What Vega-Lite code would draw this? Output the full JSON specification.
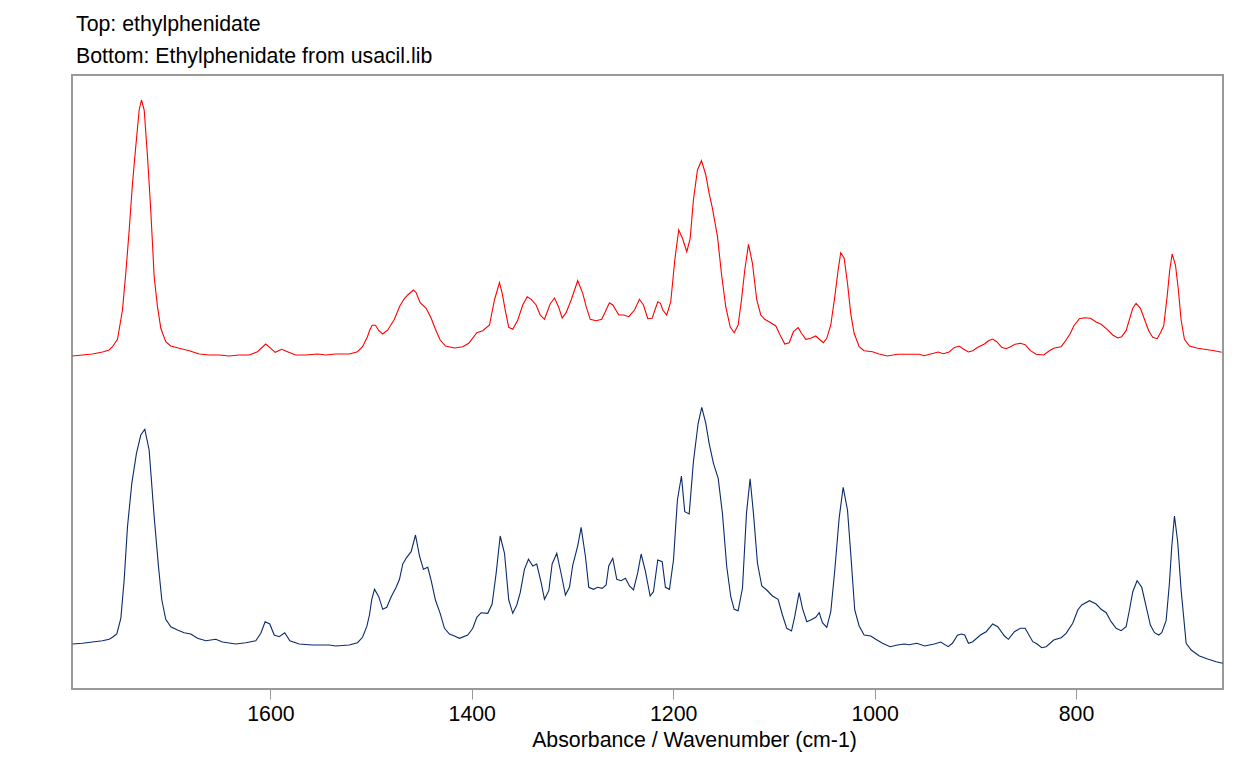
{
  "$schema": "https://vega.github.io/schema/vega-lite/v6.json",
  "width": 1151,
  "height": 614,
  "autosize": {"type": "none"},
  "padding": {"left": 72, "top": 75, "right": 34, "bottom": 93},
  "background": "white",
  "config": {
    "view": {"stroke": "#999999", "strokeWidth": 2},
    "font": "Liberation Sans"
  },
  "title": {
    "text": "Top: ethylphenidate",
    "subtitle": "Bottom: Ethylphenidate from usacil.lib",
    "anchor": "start",
    "frame": "group",
    "dx": 4,
    "offset": 8,
    "font": "Liberation Sans",
    "fontSize": 21.3,
    "fontWeight": "normal",
    "color": "#000000",
    "subtitleFont": "Liberation Sans",
    "subtitleFontSize": 21.3,
    "subtitleColor": "#000000",
    "subtitlePadding": 10
  },
  "datasets": {
    "top": [
      {"w":1796.5,"a":333},{"w":1786.6,"a":334},{"w":1776.7,"a":335},{"w":1766.7,"a":337},{"w":1760.1,"a":339},{"w":1756.8,"a":342.3},{"w":1751.8,"a":349.7},{"w":1746.9,"a":379},{"w":1743.6,"a":415.7},{"w":1740.2,"a":459},{"w":1736.9,"a":505.7},{"w":1733.7,"a":542.3},{"w":1730.3,"a":579},{"w":1728.0,"a":589},{"w":1725.3,"a":579},{"w":1722.0,"a":532.3},{"w":1718.8,"a":479},{"w":1715.4,"a":412.3},{"w":1712.1,"a":382.3},{"w":1708.8,"a":360.7},{"w":1703.9,"a":347.3},{"w":1698.9,"a":343},{"w":1690.6,"a":340.7},{"w":1680.6,"a":338.3},{"w":1670.7,"a":335},{"w":1660.8,"a":334},{"w":1650.8,"a":334},{"w":1640.9,"a":333},{"w":1631.0,"a":334},{"w":1621.1,"a":334},{"w":1612.8,"a":337.3},{"w":1604.6,"a":345},{"w":1599.6,"a":340.7},{"w":1595.2,"a":336.7},{"w":1588.7,"a":339.7},{"w":1583.0,"a":337.3},{"w":1574.8,"a":334},{"w":1564.8,"a":334},{"w":1553.2,"a":335},{"w":1545.0,"a":334},{"w":1535.1,"a":335},{"w":1521.7,"a":335},{"w":1513.5,"a":337.3},{"w":1508.5,"a":342.3},{"w":1503.6,"a":352.3},{"w":1501.6,"a":358.3},{"w":1498.9,"a":363.7},{"w":1495.6,"a":363.7},{"w":1492.3,"a":358.3},{"w":1488.4,"a":355},{"w":1483.4,"a":359},{"w":1476.8,"a":369.7},{"w":1471.8,"a":382.3},{"w":1467.5,"a":389.7},{"w":1463.6,"a":394},{"w":1457.9,"a":399},{"w":1455.2,"a":396.3},{"w":1451.3,"a":386.3},{"w":1445.3,"a":380.7},{"w":1440.3,"a":370.7},{"w":1436.1,"a":359.7},{"w":1431.4,"a":349},{"w":1426.1,"a":343},{"w":1417.2,"a":341},{"w":1408.9,"a":342.3},{"w":1403.0,"a":345.7},{"w":1395.0,"a":356.3},{"w":1389.1,"a":358.3},{"w":1382.4,"a":364},{"w":1377.5,"a":389},{"w":1372.5,"a":406.3},{"w":1369.8,"a":395.7},{"w":1366.5,"a":377.3},{"w":1363.3,"a":361.7},{"w":1359.3,"a":359.7},{"w":1354.3,"a":369},{"w":1349.4,"a":384},{"w":1345.0,"a":392.3},{"w":1341.0,"a":389.7},{"w":1336.1,"a":384},{"w":1332.1,"a":374},{"w":1327.8,"a":369.7},{"w":1322.2,"a":385},{"w":1317.9,"a":391},{"w":1313.9,"a":382.3},{"w":1310.2,"a":371},{"w":1306.3,"a":376.3},{"w":1301.3,"a":389},{"w":1294.8,"a":408.3},{"w":1289.8,"a":395.7},{"w":1286.4,"a":382.3},{"w":1282.4,"a":369.7},{"w":1276.5,"a":368.3},{"w":1270.9,"a":369.7},{"w":1263.3,"a":386.3},{"w":1260.0,"a":384},{"w":1254.0,"a":374},{"w":1249.4,"a":374},{"w":1244.1,"a":372.3},{"w":1238.4,"a":379},{"w":1233.5,"a":389.7},{"w":1229.5,"a":384},{"w":1225.2,"a":370.3},{"w":1220.9,"a":370.7},{"w":1215.3,"a":387.3},{"w":1212.6,"a":385.7},{"w":1210.3,"a":379},{"w":1206.4,"a":374},{"w":1202.4,"a":387.3},{"w":1198.4,"a":429},{"w":1194.5,"a":459},{"w":1190.8,"a":450.7},{"w":1186.5,"a":437.3},{"w":1183.1,"a":450.7},{"w":1179.9,"a":489},{"w":1175.9,"a":519},{"w":1171.9,"a":528.3},{"w":1167.6,"a":514},{"w":1164.3,"a":495.7},{"w":1161.0,"a":480.7},{"w":1156.0,"a":452.3},{"w":1152.1,"a":415.7},{"w":1147.8,"a":382.3},{"w":1143.4,"a":362.3},{"w":1139.4,"a":356.3},{"w":1135.5,"a":364},{"w":1132.2,"a":389},{"w":1128.9,"a":419},{"w":1125.2,"a":444.7},{"w":1121.3,"a":425.7},{"w":1117.0,"a":389},{"w":1113.0,"a":374},{"w":1109.1,"a":369.7},{"w":1103.1,"a":366.3},{"w":1098.1,"a":363},{"w":1093.8,"a":354},{"w":1089.2,"a":345},{"w":1084.8,"a":346.3},{"w":1080.6,"a":357.3},{"w":1075.9,"a":361.3},{"w":1072.6,"a":355.7},{"w":1068.3,"a":349.7},{"w":1063.4,"a":350.7},{"w":1058.4,"a":353},{"w":1054.0,"a":349},{"w":1050.8,"a":346.3},{"w":1047.5,"a":350.7},{"w":1043.5,"a":364},{"w":1039.5,"a":392.3},{"w":1036.2,"a":419},{"w":1033.6,"a":436.3},{"w":1030.2,"a":430.7},{"w":1026.9,"a":405.7},{"w":1023.7,"a":375.7},{"w":1020.3,"a":355.7},{"w":1015.3,"a":342.3},{"w":1010.4,"a":338.3},{"w":1002.1,"a":337.3},{"w":995.5,"a":335},{"w":987.2,"a":333},{"w":977.3,"a":334.7},{"w":967.4,"a":334.7},{"w":955.7,"a":334.7},{"w":950.8,"a":333.3},{"w":944.2,"a":335},{"w":936.9,"a":337},{"w":931.6,"a":335.3},{"w":926.0,"a":337},{"w":921.0,"a":341.3},{"w":916.0,"a":343},{"w":911.8,"a":340},{"w":906.8,"a":337},{"w":902.5,"a":338.3},{"w":897.5,"a":341.7},{"w":890.9,"a":345},{"w":886.9,"a":348.3},{"w":882.7,"a":350},{"w":878.7,"a":347.3},{"w":873.7,"a":341.7},{"w":869.4,"a":340.3},{"w":865.1,"a":342.3},{"w":860.4,"a":344.7},{"w":855.2,"a":345.7},{"w":850.5,"a":344.3},{"w":845.2,"a":338.3},{"w":839.6,"a":334.7},{"w":832.0,"a":334},{"w":826.4,"a":338.3},{"w":821.4,"a":341},{"w":814.7,"a":342.3},{"w":809.8,"a":349},{"w":805.5,"a":355.7},{"w":802.2,"a":363},{"w":796.6,"a":370.3},{"w":791.6,"a":371.3},{"w":785.6,"a":370.7},{"w":780.0,"a":367},{"w":775.0,"a":364.7},{"w":769.1,"a":359.7},{"w":763.5,"a":354},{"w":758.5,"a":351},{"w":754.6,"a":352.3},{"w":750.2,"a":358.3},{"w":746.9,"a":369.7},{"w":743.6,"a":380.7},{"w":740.3,"a":385.7},{"w":736.0,"a":380.7},{"w":732.0,"a":369.7},{"w":727.8,"a":358.3},{"w":723.8,"a":351.7},{"w":719.4,"a":350.3},{"w":716.1,"a":356.3},{"w":712.9,"a":363},{"w":709.5,"a":392.3},{"w":706.9,"a":419},{"w":704.5,"a":435},{"w":701.2,"a":424},{"w":698.3,"a":399},{"w":695.6,"a":369},{"w":692.3,"a":349.7},{"w":687.3,"a":343},{"w":679.1,"a":340.7},{"w":672.4,"a":339.7},{"w":662.5,"a":338.3},{"w":655.3,"a":336.7}
    ],
    "bottom": [
      {"w":1796.5,"a":45},{"w":1786.6,"a":45.7},{"w":1776.7,"a":47},{"w":1766.7,"a":48.3},{"w":1760.1,"a":49.7},{"w":1756.8,"a":51.7},{"w":1752.5,"a":55},{"w":1748.5,"a":70.7},{"w":1745.2,"a":109},{"w":1741.9,"a":162.3},{"w":1737.6,"a":205.7},{"w":1733.0,"a":235.7},{"w":1728.7,"a":254},{"w":1724.7,"a":259.7},{"w":1720.4,"a":239},{"w":1715.4,"a":172.3},{"w":1711.1,"a":122.3},{"w":1707.8,"a":89},{"w":1703.9,"a":69.7},{"w":1698.9,"a":62.3},{"w":1692.3,"a":59},{"w":1685.6,"a":56.3},{"w":1679.0,"a":55},{"w":1672.4,"a":50.7},{"w":1664.1,"a":48.3},{"w":1654.2,"a":49.7},{"w":1647.6,"a":47},{"w":1634.3,"a":45},{"w":1624.4,"a":46.3},{"w":1614.5,"a":48.3},{"w":1609.5,"a":55.7},{"w":1605.2,"a":67.3},{"w":1600.6,"a":65},{"w":1596.2,"a":54},{"w":1591.3,"a":52.3},{"w":1585.7,"a":56.3},{"w":1580.7,"a":48.3},{"w":1571.4,"a":45},{"w":1558.2,"a":44},{"w":1541.6,"a":44},{"w":1535.1,"a":43},{"w":1521.7,"a":44},{"w":1513.5,"a":46.3},{"w":1508.5,"a":51.7},{"w":1504.3,"a":62.3},{"w":1501.6,"a":74},{"w":1499.3,"a":89.7},{"w":1496.6,"a":99.7},{"w":1492.4,"a":92.3},{"w":1488.4,"a":79.7},{"w":1484.4,"a":81.7},{"w":1480.0,"a":92.3},{"w":1475.1,"a":101.7},{"w":1471.8,"a":109.7},{"w":1468.5,"a":125},{"w":1464.6,"a":131.7},{"w":1460.2,"a":137.3},{"w":1455.9,"a":154},{"w":1451.9,"a":133},{"w":1448.0,"a":119.7},{"w":1443.7,"a":121.7},{"w":1440.3,"a":108.3},{"w":1436.1,"a":89},{"w":1431.4,"a":75.7},{"w":1427.1,"a":60.7},{"w":1422.2,"a":55},{"w":1417.2,"a":53},{"w":1412.2,"a":50.7},{"w":1404.0,"a":54},{"w":1399.0,"a":60.7},{"w":1395.0,"a":71.7},{"w":1390.7,"a":76.3},{"w":1384.1,"a":75.7},{"w":1379.8,"a":85},{"w":1375.8,"a":115.7},{"w":1371.8,"a":153},{"w":1367.5,"a":135.7},{"w":1363.3,"a":89},{"w":1359.3,"a":75.7},{"w":1355.3,"a":84},{"w":1351.9,"a":96.3},{"w":1347.7,"a":119.7},{"w":1343.7,"a":129.7},{"w":1339.4,"a":123},{"w":1335.5,"a":125},{"w":1331.1,"a":106.3},{"w":1327.8,"a":89.7},{"w":1323.5,"a":98.3},{"w":1320.2,"a":125},{"w":1315.6,"a":135.7},{"w":1311.2,"a":115},{"w":1307.0,"a":94},{"w":1303.0,"a":101.7},{"w":1299.7,"a":124},{"w":1294.8,"a":143},{"w":1291.4,"a":161.7},{"w":1287.1,"a":132.3},{"w":1283.8,"a":101.7},{"w":1279.2,"a":99.7},{"w":1274.9,"a":101.7},{"w":1270.5,"a":100.7},{"w":1266.6,"a":104},{"w":1264.0,"a":123},{"w":1260.0,"a":130.7},{"w":1256.0,"a":109.7},{"w":1251.7,"a":108.3},{"w":1247.4,"a":110.7},{"w":1243.4,"a":103},{"w":1239.4,"a":99},{"w":1235.2,"a":116.3},{"w":1231.8,"a":135},{"w":1227.5,"a":117.3},{"w":1222.9,"a":93},{"w":1219.6,"a":97.3},{"w":1215.3,"a":129},{"w":1210.9,"a":127.3},{"w":1207.7,"a":101.7},{"w":1203.7,"a":99.7},{"w":1199.7,"a":129},{"w":1195.8,"a":189},{"w":1191.8,"a":213},{"w":1188.5,"a":177.3},{"w":1184.1,"a":175},{"w":1179.9,"a":227.3},{"w":1175.2,"a":265.7},{"w":1171.6,"a":281.7},{"w":1167.6,"a":265.7},{"w":1164.3,"a":245.7},{"w":1160.0,"a":225.7},{"w":1155.3,"a":210.7},{"w":1151.1,"a":175.7},{"w":1146.8,"a":122.3},{"w":1142.8,"a":92.3},{"w":1139.4,"a":79.7},{"w":1135.5,"a":78.3},{"w":1131.2,"a":100.7},{"w":1127.2,"a":175.7},{"w":1123.6,"a":210.3},{"w":1120.3,"a":175.7},{"w":1116.3,"a":125.7},{"w":1112.0,"a":103},{"w":1107.1,"a":99},{"w":1101.4,"a":93},{"w":1095.8,"a":89.7},{"w":1091.5,"a":74},{"w":1087.2,"a":60.7},{"w":1082.5,"a":58},{"w":1079.3,"a":72.3},{"w":1074.9,"a":96.3},{"w":1071.6,"a":80.7},{"w":1067.3,"a":67.3},{"w":1063.4,"a":69},{"w":1058.4,"a":71.7},{"w":1055.0,"a":76.3},{"w":1051.8,"a":66.3},{"w":1047.5,"a":61.7},{"w":1043.5,"a":77.3},{"w":1039.5,"a":119},{"w":1035.2,"a":170.7},{"w":1031.2,"a":201.7},{"w":1026.9,"a":179},{"w":1023.7,"a":135.7},{"w":1019.7,"a":79},{"w":1015.3,"a":63},{"w":1010.4,"a":54},{"w":1003.8,"a":53},{"w":998.8,"a":49.7},{"w":992.2,"a":45.7},{"w":984.5,"a":42.3},{"w":977.3,"a":44},{"w":970.6,"a":45},{"w":965.7,"a":44.3},{"w":958.1,"a":45.7},{"w":950.2,"a":43},{"w":940.8,"a":45},{"w":934.3,"a":47},{"w":926.9,"a":42.3},{"w":922.7,"a":45.7},{"w":917.7,"a":53.7},{"w":913.7,"a":55},{"w":910.5,"a":54},{"w":906.8,"a":45.7},{"w":902.5,"a":47.3},{"w":894.9,"a":54},{"w":889.2,"a":57.3},{"w":882.7,"a":65},{"w":877.7,"a":62.3},{"w":871.0,"a":53},{"w":867.1,"a":49.7},{"w":861.1,"a":57.3},{"w":855.2,"a":60.7},{"w":850.5,"a":60.7},{"w":842.9,"a":47.3},{"w":838.6,"a":45},{"w":834.0,"a":41.3},{"w":829.6,"a":42.3},{"w":822.1,"a":49},{"w":814.7,"a":51.3},{"w":809.8,"a":55.7},{"w":803.2,"a":65.7},{"w":798.2,"a":79},{"w":794.3,"a":84},{"w":786.6,"a":88.3},{"w":780.0,"a":85},{"w":775.0,"a":79.7},{"w":770.0,"a":76.3},{"w":765.1,"a":67.3},{"w":760.1,"a":60.7},{"w":755.2,"a":58.3},{"w":750.2,"a":62.3},{"w":746.9,"a":79},{"w":743.6,"a":97.3},{"w":739.3,"a":108.3},{"w":734.7,"a":101.7},{"w":730.3,"a":82.3},{"w":726.1,"a":64},{"w":722.1,"a":56.3},{"w":717.8,"a":54},{"w":714.8,"a":56.3},{"w":710.5,"a":68.3},{"w":707.2,"a":105.7},{"w":704.9,"a":142.3},{"w":702.2,"a":173},{"w":699.0,"a":147.3},{"w":695.6,"a":99},{"w":690.6,"a":45.7},{"w":685.6,"a":39},{"w":677.4,"a":33},{"w":669.2,"a":30},{"w":660.8,"a":27.3},{"w":654.3,"a":25.7}
    ]
  },
  "encoding": {
    "x": {
      "field": "w",
      "type": "quantitative",
      "scale": {"domain": [1797, 654], "nice": false, "zero": false},
      "axis": {
        "title": "Absorbance / Wavenumber (cm-1)",
        "values": [1600, 1400, 1200, 1000, 800],
        "format": "d",
        "grid": false,
        "domain": false,
        "tickColor": "#999999",
        "tickSize": 10,
        "tickWidth": 1,
        "labelFont": "Liberation Sans",
        "labelFontSize": 21.3,
        "labelColor": "#000000",
        "labelPadding": 4,
        "titleFont": "Liberation Sans",
        "titleFontSize": 21.3,
        "titleFontWeight": "normal",
        "titleColor": "#000000",
        "titlePadding": 5,
        "titleAlign": "center",
        "titleX": 622
      }
    },
    "y": {
      "field": "a",
      "type": "quantitative",
      "scale": {"domain": [0, 614], "nice": false, "zero": false},
      "axis": null
    }
  },
  "layer": [
    {
      "data": {"name": "top"},
      "mark": {"type": "line", "color": "#ff0000", "strokeWidth": 1.1, "interpolate": "linear"}
    },
    {
      "data": {"name": "bottom"},
      "mark": {"type": "line", "color": "#0a2a6a", "strokeWidth": 1.1, "interpolate": "linear"}
    }
  ]
}
